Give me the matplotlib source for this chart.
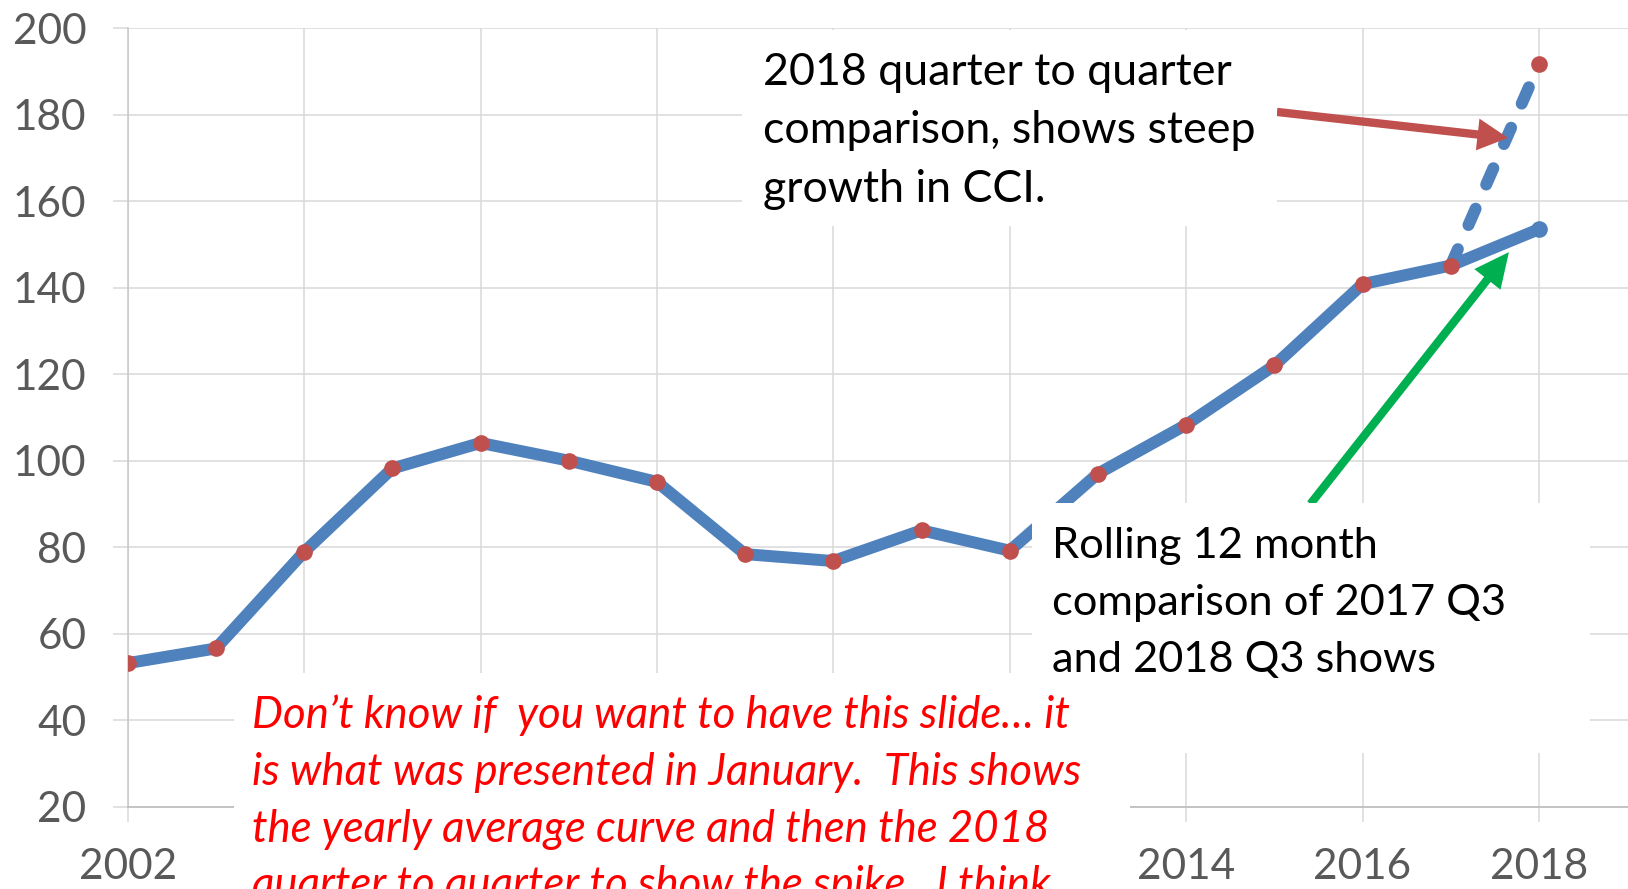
import matplotlib
matplotlib.use('Agg')
import matplotlib.pyplot as plt
from matplotlib.patches import Rectangle

# yearly average CCI
years = list(range(2002, 2019))
cci = [53.2, 56.6, 78.9, 98.2, 104.1, 100.0, 95.1, 78.4, 76.8, 83.9, 79.2,
       97.0, 108.3, 122.0, 140.8, 145.1, 153.5]
# 2018 quarter to quarter comparison
q_years = [2017, 2018]
q_cci = [145.1, 191.6]

xtick_years = list(range(2002, 2019, 2))
ytick_vals = list(range(20, 201, 20))

note_top = ['2018 quarter to quarter', 'comparison, shows steep', 'growth in CCI.']
note_mid = ['Rolling 12 month', 'comparison of 2017 Q3', 'and 2018 Q3 shows']
note_red = ['Don\u2019t know if  you want to have this slide\u2026 it',
            'is what was presented in January.  This shows',
            'the yearly average curve and then the 2018',
            'quarter to quarter to show the spike.  I think']

blue = '#4F81BD'
dot_red = '#C0504D'
green = '#00B050'
grid_c = '#D9D9D9'
label_c = '#595959'

W, H = 1628, 889
fig = plt.figure(figsize=(W / 100, H / 100), dpi=100)

# pixel -> figure fraction
def fx(x):
    return x / W

def fy(y):
    return 1 - y / H

x_left, y_bottom, y_top = 127.7, 806.8, 28.0
px_year = 88.2
ax = fig.add_axes([fx(x_left), fy(y_bottom), (W - x_left) / W, (y_bottom - y_top) / H])
ax.set_xlim(2002, 2002 + (W - x_left) / px_year)
ax.set_ylim(20, 200)

ax.set_axisbelow(True)
ax.grid(True, color=grid_c, lw=1.1)
for s in ['top', 'right']:
    ax.spines[s].set_visible(False)
ax.spines['left'].set_color('#C8C8C8')
ax.spines['bottom'].set_color('#BFBFBF')
ax.spines['left'].set_linewidth(1.1)
ax.spines['bottom'].set_linewidth(1.3)

# white callout boxes (pixels: left, top, right, bottom)
boxes = [(742, 30, 1277, 226), (1032, 503, 1590, 753), (234, 673, 1130, 900)]
red_box = boxes[2]

# year labels under the red note are covered in the original
ax.set_xticks(xtick_years)
ax.set_xticklabels([str(y) if not (red_box[0] < x_left + (y - 2002) * px_year < red_box[2]) else ''
                    for y in xtick_years])
ax.set_yticks(ytick_vals)
ax.tick_params(axis='both', direction='out', length=10.8, width=1.1, color=grid_c,
               labelcolor=label_c, labelsize=30.5, pad=19)
for lab in ax.get_xticklabels() + ax.get_yticklabels():
    lab.set_family('Lato')

# lines
ax.plot(years, cci, color=blue, lw=8.6, solid_capstyle='round',
        solid_joinstyle='round', zorder=3)
ax.plot(q_years, q_cci, color=blue, lw=8.6, dashes=(1.5, 2.2),
        dash_capstyle='round', zorder=3)
ax.plot(years[:-1], cci[:-1], 'o', color=dot_red, ms=12, mec='none', zorder=4)
ax.plot(years[-1:], cci[-1:], 'o', color=blue, ms=12, mec='none', zorder=4)
ax.plot(q_years[-1:], q_cci[-1:], 'o', color=dot_red, ms=12, mec='none', zorder=4)

# arrows
ax.annotate('', xy=(2017.65, 174.6), xytext=(2015.03, 180.6),
            arrowprops=dict(arrowstyle='simple,head_length=2.2,head_width=2.3,tail_width=0.6',
                            mutation_scale=10, fc=dot_red, ec='none', shrinkA=0, shrinkB=0))
ax.annotate('', xy=(2017.66, 148.2), xytext=(2015.41, 90.0),
            arrowprops=dict(arrowstyle='simple,head_length=2.5,head_width=2.4,tail_width=0.6',
                            mutation_scale=10, fc=green, ec='none', shrinkA=0, shrinkB=0))

for (x1, y1, x2, y2) in boxes:
    fig.add_artist(Rectangle((fx(x1), fy(y2)), (x2 - x1) / W, (y2 - y1) / H,
                             transform=fig.transFigure, fc='white', ec='none', zorder=5))

renderer = fig.canvas.get_renderer()

def put_lines(lines, x, baselines, target_w, size, **kw):
    texts = [fig.text(fx(x), fy(b), t, ha='left', va='baseline', fontsize=size,
                      zorder=6, **kw) for t, b in zip(lines, baselines)]
    w = max(t.get_window_extent(renderer).width for t in texts)
    for t in texts:
        t.set_fontsize(size * target_w / w)

put_lines(note_top, 763, [85.0, 143.3, 201.6], 493, 30, family='Lato', color='black')
put_lines(note_mid, 1052, [558.3, 615.0, 671.7], 454, 30, family='Lato', color='black')
put_lines(note_red, 252, [728.3, 785.0, 841.7, 898.4], 830, 28, family='Lato',
          style='italic', color='#FF0000')

fig.savefig('out.png', dpi=100)
